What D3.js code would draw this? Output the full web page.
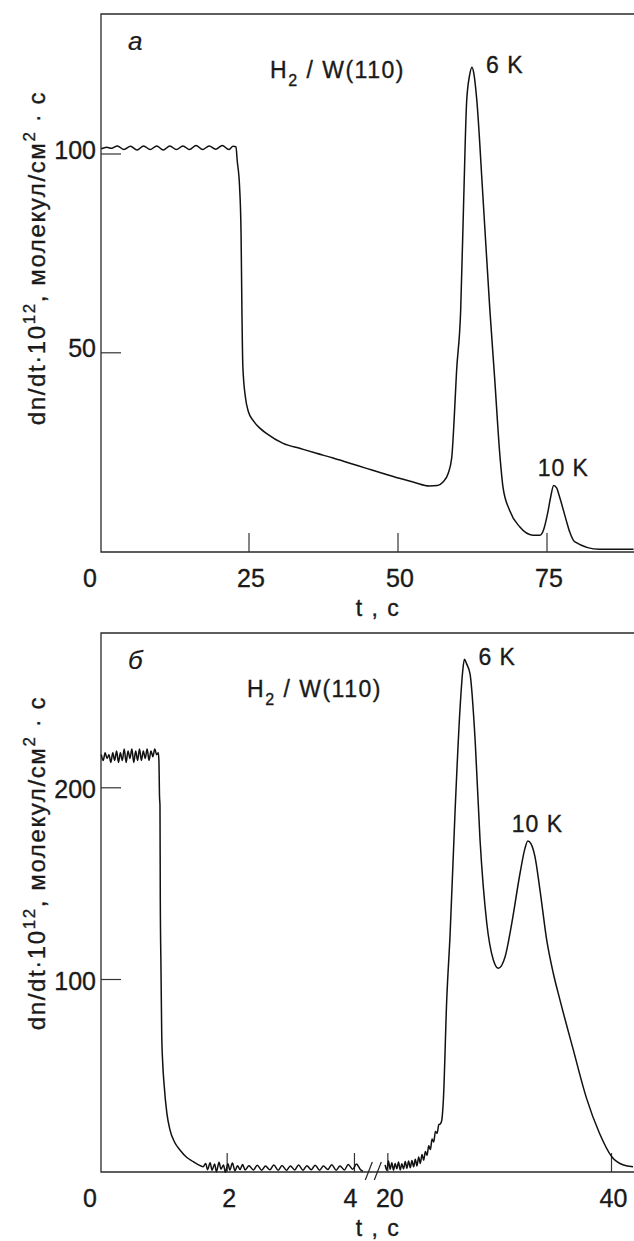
<!DOCTYPE html>
<html>
<head>
<meta charset="utf-8">
<script src="https://cdn.jsdelivr.net/npm/d3@7/dist/d3.min.js"></script>
<style>
  body { margin: 0; background: #fff; }
  text { font-family: 'Liberation Sans', Arial, sans-serif; fill: #1a1a1a; stroke: #1a1a1a; stroke-width: 0.35px; }
</style>
</head>
<body>
<script>
// panel a: H2 / W(110), continuous time axis
const tA = [0.3, 1.2, 2.0, 3.0, 4.1, 5.2, 6.3, 7.4, 8.5, 9.6, 10.7, 11.8, 12.9, 14.0, 15.1, 16.2, 17.3, 18.4, 19.5, 20.6, 21.7, 22.4, 22.9,
  23.1, 23.5, 23.75, 23.9, 24.05, 24.5, 25.0, 25.8, 27.0, 28.0, 30.8, 33.7, 36.4, 39.2, 42.0, 44.8, 47.6, 50.3, 53.0, 55.3, 56.7, 57.6, 58.5, 59.1, 59.5, 59.9,
  60.6, 61.1, 61.6, 62.1, 62.5, 62.8, 63.3, 64.3, 65.5, 66.3, 67.2, 67.7, 68.8, 70.5, 72.7, 73.9, 74.5, 75.2, 75.7, 76.2, 76.7, 77.2, 78.3, 78.9, 79.7, 83.9, 89.6];
const vA = [101.2, 101.6, 101.3, 101.9, 101.0, 101.8, 100.9, 101.9, 101.0, 101.9, 100.9, 101.9, 101.0, 101.9, 101.0, 102.0, 101.0, 101.9, 101.1, 102.0, 101.0, 101.8, 101.7,
  98.3, 91.7, 80.0, 60.0, 46.5, 38.5, 35.0, 32.8, 30.8, 29.6, 27.1, 25.8, 24.6, 23.4, 22.1, 20.8, 19.5, 18.3, 17.2, 16.4, 16.5, 17.3, 19.5, 23.5, 33.0, 45.0,
  60.6, 88.0, 113.0, 119.7, 121.7, 120.2, 113.5, 90.0, 60.6, 43.5, 23.7, 16.1, 10.3, 6.1, 4.0, 4.0, 5.3, 9.6, 13.6, 16.5, 15.9, 13.6, 7.8, 4.8, 2.4, 0.45, 0.45];

// panel b: broken time axis, two segments
const tB1 = [0.03, 0.06, 0.09, 0.12, 0.15, 0.18, 0.21, 0.24, 0.27, 0.30, 0.33, 0.36, 0.39, 0.42, 0.45, 0.48, 0.51, 0.54, 0.57, 0.60, 0.63, 0.66, 0.69, 0.72, 0.75, 0.78, 0.81, 0.84, 0.87, 0.90, 0.925,
  0.935, 0.945, 0.952, 0.957, 0.968, 0.979, 0.995, 1.015, 1.06, 1.11, 1.18, 1.266, 1.37, 1.475, 1.55,
  1.63, 1.67, 1.70, 1.74, 1.77, 1.81, 1.84, 1.88, 1.91, 1.95, 1.98, 2.02, 2.05, 2.09, 2.13, 2.17, 2.21, 2.25, 2.29,
  2.35, 2.42, 2.48, 2.55, 2.61, 2.68, 2.74, 2.81, 2.87, 2.94, 3.00, 3.07, 3.13, 3.20, 3.26, 3.33, 3.39, 3.46, 3.52, 3.59, 3.65, 3.72, 3.78, 3.85, 3.91, 3.98, 4.04, 4.10, 4.14];
const vB1 = [217, 214, 218, 215, 217, 213, 218, 214, 219, 213, 218, 214, 220, 213, 219, 215, 220, 213, 219, 214, 220, 214, 219, 215, 220, 214, 219, 216, 220, 217, 218,
  214, 195, 190.5, 141, 105, 72, 56, 45.7, 30, 21.2, 15, 10.8, 7.0, 4.7, 3.2,
  2.1, 3.8, 0.5, 4.2, 0.2, 3.5, -0.5, 4.4, 0.8, 3.0, -0.8, 3.6, 0.3, 4.0, 0.0, 2.6, 0.6, 3.2, 0.4,
  2.6, 0.4, 2.9, 0.2, 2.4, 0.5, 3.0, 0.3, 2.7, 0.2, 2.5, 0.4, 3.0, 0.3, 2.6, 0.5, 2.9, 0.2, 2.4, 0.6, 3.1, 0.3, 2.5, 0.4, 3.2, 0.8, 3.5, 0.6, -0.3];
const tB2 = [19.8, 19.95, 20.1, 20.25, 20.4, 20.55, 20.7, 20.85, 21.0, 21.15, 21.3, 21.45, 21.6, 21.75, 21.9, 22.05, 22.2, 22.35, 22.5, 22.65, 22.8, 22.95, 23.1, 23.25, 23.4, 23.55, 23.7, 23.85, 24.0, 24.15, 24.3, 24.45, 24.6, 24.75,
  24.87, 25.01, 25.31, 25.61, 26.06, 26.51, 26.73, 26.89, 27.08, 27.40, 27.85, 28.29, 28.89, 29.48, 29.93, 30.53, 31.13, 31.87, 32.30, 32.56, 32.85, 33.20, 33.65, 34.25, 34.84, 35.44, 36.63, 37.8, 38.96, 40.07, 41.11, 41.97];
const vB2 = [3.0, 0.2, 5.0, 0.8, 4.2, 0.3, 3.8, 1.0, 4.5, 0.4, 3.6, 0.9, 4.8, 1.2, 5.0, 1.5, 5.3, 2.0, 6.0, 2.5, 7.2, 3.8, 8.5, 5.5, 10.0, 8.0, 13.0, 11.0, 16.5, 15.0, 20.5, 19.5, 24.0, 24.5,
  26.4, 36.9, 89.0, 123.0, 188.0, 242.0, 260.0, 266.8, 264.5, 259.0, 224.7, 172.5, 129.2, 109.9, 105.6, 111.6, 129.2, 155.3, 168.0, 172.0, 170.5, 163.8, 146.4, 120.4, 103.0, 89.0, 63.0, 38.0, 19.7, 7.3, 3.0, 2.1];

const xTicksA = [0, 25, 50, 75];
const yTicksA = [50, 100];
const xTicksB = [0, 2, 4, 20, 40];
const yTicksB = [100, 200];

const peaksA = [{ label: '6 K', t: 62.5, v: 121.7 }, { label: '10 K', t: 76.2, v: 16.5 }];
const peaksB = [{ label: '6 K', t: 26.89, v: 266.8 }, { label: '10 K', t: 32.56, v: 172.0 }];

const W = 634, H = 1241;
const svg = d3.select('body').append('svg')
  .attr('width', W)
  .attr('height', H);
svg.append('rect').attr('width', W).attr('height', H).attr('fill', '#fff');

const toPts = (ts, vs) => ts.map((t, i) => [t, vs[i]]);

function drawPanel(p) {
  const g = svg.append('g');
  const { x, y, top, bottom, left } = p;

  // frame: top, left, bottom (right side is cut off)
  g.append('path')
    .attr('d', `M${W},${top}H${left}V${bottom}H${W}`)
    .attr('fill', 'none')
    .attr('stroke', '#2a2a2a')
    .attr('stroke-width', 1.3);

  // x axis, ticks pointing inward
  const xa = g.append('g')
    .attr('transform', `translate(0,${bottom})`)
    .call(d3.axisBottom(x).tickValues(p.xTicks).tickSize(-19).tickPadding(17).tickFormat(d3.format('d')));
  xa.select('.domain').remove();
  xa.selectAll('line').attr('stroke', '#333').attr('stroke-width', 1.2);
  xa.selectAll('.tick').filter(d => d === 0).select('line').remove();
  xa.selectAll('text')
    .attr('font-size', 25)
    .attr('fill', '#1a1a1a')
    .attr('font-family', "'Liberation Sans', Arial, sans-serif")
    .attr('dx', d => d === 0 ? -10 : (p.shiftLabel && d === p.shiftLabel ? -4 : 2));

  // y axis, ticks pointing inward
  const ya = g.append('g')
    .attr('transform', `translate(${left},0)`)
    .call(d3.axisLeft(y).tickValues(p.yTicks).tickSize(-20).tickPadding(5));
  ya.select('.domain').remove();
  ya.selectAll('line').attr('stroke', '#333').attr('stroke-width', 1.2);
  ya.selectAll('text')
    .attr('font-size', 25)
    .attr('fill', '#1a1a1a')
    .attr('font-family', "'Liberation Sans', Arial, sans-serif")
    .attr('dy', p.yLabelDy);

  // curve
  const line = d3.line()
    .x(d => x(d[0]))
    .y(d => y(d[1]))
    .curve(d3.curveMonotoneX);
  p.series.forEach(s => {
    g.append('path')
      .datum(s)
      .attr('d', line)
      .attr('fill', 'none')
      .attr('stroke', '#111')
      .attr('stroke-width', 1.5)
      .attr('stroke-linejoin', 'round');
  });

  // panel letter
  g.append('text')
    .attr('x', left + 27)
    .attr('y', top + 36)
    .attr('font-family', "'Liberation Serif', 'DejaVu Serif', serif")
    .attr('font-style', 'italic')
    .attr('font-size', 26)
    .style('stroke-width', '0.2px')
    .text(p.letter);

  // system label
  const sys = g.append('text')
    .attr('x', p.sysX)
    .attr('y', top + 64)
    .attr('font-size', 23)
    .attr('letter-spacing', 1.5);
  sys.append('tspan').text('H');
  sys.append('tspan').attr('font-size', 16).attr('dy', 8).text('2');
  sys.append('tspan').attr('dy', -8).text(' / W(110)');

  // peak labels
  g.selectAll('.peak')
    .data(p.peaks)
    .enter().append('text')
    .attr('class', 'peak')
    .attr('x', (d, i) => x(d.t) + (i === 0 ? 14 : -16))
    .attr('y', (d, i) => y(d.v) + (i === 0 ? 6 : -9))
    .attr('font-size', 23)
    .attr('letter-spacing', 1)
    .text(d => d.label);

  // y axis title
  const yt = g.append('text')
    .attr('transform', `translate(45,${p.yTitleY}) rotate(-90)`)
    .attr('text-anchor', 'middle')
    .attr('font-size', 24)
    .attr('letter-spacing', 1.6);
  yt.append('tspan').text('dn/dt·10');
  yt.append('tspan').attr('font-size', 17).attr('dy', -10).text('12');
  yt.append('tspan').attr('dy', 10).text(', молекул/см');
  yt.append('tspan').attr('font-size', 17).attr('dy', -10).text('2');
  yt.append('tspan').attr('dy', 10).text(' · с');

  // x axis title
  g.append('text')
    .attr('x', 378)
    .attr('y', bottom + 64)
    .attr('text-anchor', 'middle')
    .attr('font-size', 23)
    .attr('letter-spacing', 1.5)
    .text('t , с');

  return g;
}

// panel a
const xA = d3.scaleLinear().domain([0, 75]).range([99.5, 546.5]);
const yA = d3.scaleLinear().domain([0, 100]).range([551.1, 153.5]);
drawPanel({
  x: xA, y: yA, top: 14, bottom: 552, left: 101,
  xTicks: xTicksA, yTicks: yTicksA, yLabelDy: '0.18em',
  series: [toPts(tA, vA)],
  letter: 'a', sysX: 270, peaks: peaksA, yTitleY: 258
});

// panel b (broken axis: 0–4 and 20–40)
const xB = d3.scaleLinear().domain([0, 4.15, 19.8, 40]).range([99.4, 363.5, 385.1, 611]);
const yB = d3.scaleLinear().domain([0, 100]).range([1170.7, 979]);
const gB = drawPanel({
  x: xB, y: yB, top: 633, bottom: 1172, left: 101,
  xTicks: xTicksB, yTicks: yTicksB, yLabelDy: '0.4em',
  series: [toPts(tB1, vB1), toPts(tB2, vB2)],
  letter: 'б', sysX: 247, peaks: peaksB, yTitleY: 863, shiftLabel: 4
});

// break marks on the time axis
const mid = (xB(4.15) + xB(19.8)) / 2;
gB.selectAll('.brk')
  .data([-5, 4])
  .enter().append('line')
  .attr('x1', d => mid + d - 4)
  .attr('y1', 1180)
  .attr('x2', d => mid + d + 3)
  .attr('y2', 1162)
  .attr('stroke', '#222')
  .attr('stroke-width', 1.2);
</script>
</body>
</html>
